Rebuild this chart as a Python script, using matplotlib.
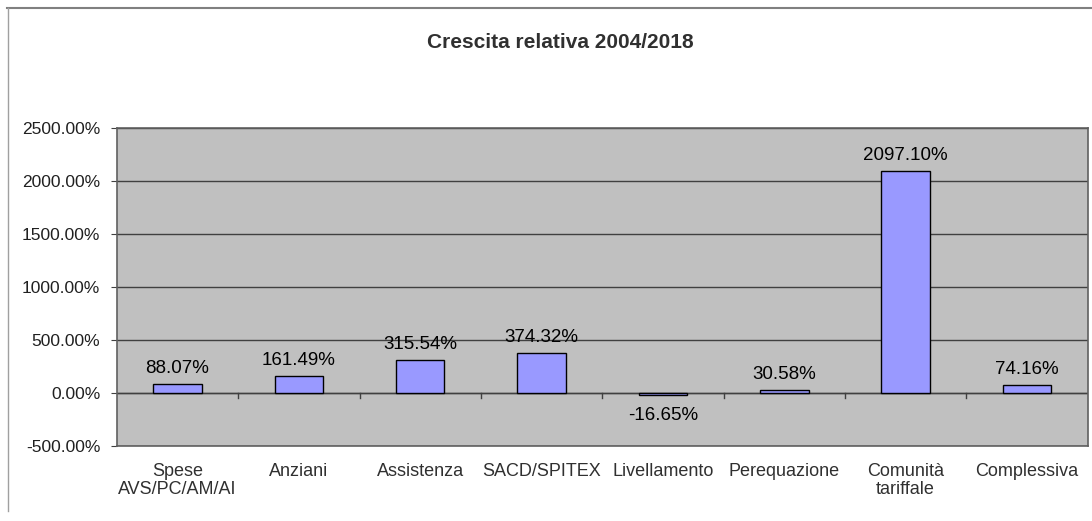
import matplotlib.pyplot as plt
from matplotlib.lines import Line2D

categorie = ["Spese\nAVS/PC/AM/AI", "Anziani", "Assistenza", "SACD/SPITEX",
             "Livellamento", "Perequazione", "Comunità\ntariffale", "Complessiva"]
crescita = [88.07, 161.49, 315.54, 374.32, -16.65, 30.58, 2097.10, 74.16]
yticks = [-500, 0, 500, 1000, 1500, 2000, 2500]

plt.rcParams['font.family'] = ['Liberation Sans', 'DejaVu Sans']

fig = plt.figure(figsize=(10.92, 5.21), dpi=100)
ax = fig.add_axes([0.107, 0.144, 0.889, 0.610])
ax.set_facecolor("#C0C0C0")

x = list(range(len(categorie)))
bars = ax.bar(x, crescita, width=0.4, color="#9999FF", edgecolor="black", linewidth=1, zorder=3)

ax.set_xlim(-0.5, len(categorie) - 0.5)
ax.set_ylim(-500, 2500)
ax.set_yticks(yticks)
ax.set_yticklabels(["%.2f%%" % v for v in yticks], fontsize=12.5, color="#202020")
ax.yaxis.grid(True, color="#404040", linewidth=1, zorder=1)
ax.tick_params(axis="y", length=4, color="#404040", pad=8)

# asse categorie a zero con tacche tra le categorie
ax.axhline(0, color="#404040", linewidth=1, zorder=2)
for b in range(1, len(categorie)):
    ax.plot([b - 0.5, b - 0.5], [0, -50], color="#404040", linewidth=1, zorder=2)

ax.set_xticks(x)
ax.set_xticklabels(categorie, fontsize=13, color="#303030", linespacing=1.1)
ax.tick_params(axis="x", length=0, pad=12)

for s in ax.spines.values():
    s.set_color("#606060")
    s.set_linewidth(1.2)

for xi, v in zip(x, crescita):
    if v >= 0:
        ax.annotate("%.2f%%" % v, (xi, v), xytext=(0, 5), textcoords="offset points",
                    ha="center", va="bottom", fontsize=13.5)
    else:
        ax.annotate("%.2f%%" % v, (xi, v), xytext=(0, -9), textcoords="offset points",
                    ha="center", va="top", fontsize=13.5)

fig.text(0.513, 0.919, "Crescita relativa 2004/2018", ha="center", va="center",
         fontsize=15, fontweight="bold", color="#303030")

# cornice esterna
fig.add_artist(Line2D([0.006, 1.0], [0.985, 0.985], color="#808080", linewidth=1.5))
fig.add_artist(Line2D([0.007, 0.007], [0.985, 0.02], color="#A0A0A0", linewidth=1))

fig.savefig("out.png", dpi=100)
